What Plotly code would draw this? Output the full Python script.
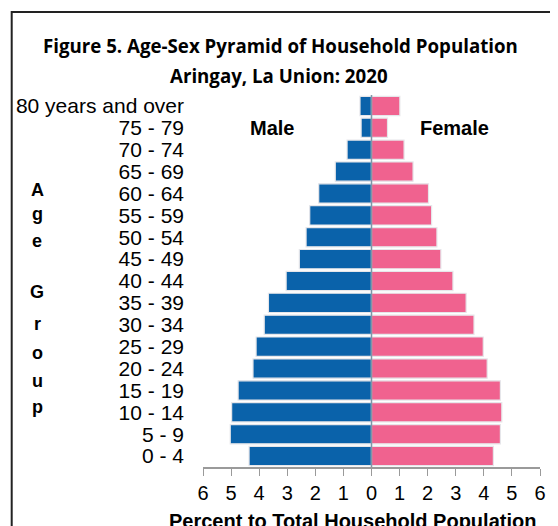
import plotly.graph_objects as go

age_groups = ["0 - 4", "5 - 9", "10 - 14", "15 - 19", "20 - 24", "25 - 29",
              "30 - 34", "35 - 39", "40 - 44", "45 - 49", "50 - 54", "55 - 59",
              "60 - 64", "65 - 69", "70 - 74", "75 - 79", "80 years and over"]
male = [4.36, 5.03, 4.98, 4.75, 4.22, 4.11, 3.82, 3.67, 3.04, 2.57, 2.33,
        2.20, 1.88, 1.29, 0.87, 0.37, 0.41]
female = [4.34, 4.59, 4.64, 4.59, 4.12, 3.98, 3.65, 3.37, 2.90, 2.47, 2.33,
          2.14, 2.03, 1.48, 1.16, 0.57, 1.01]
tick_vals = [-6, -5, -4, -3, -2, -1, 0, 1, 2, 3, 4, 5, 6]
tick_text = ["6", "5", "4", "3", "2", "1", "0", "1", "2", "3", "4", "5", "6"]

# the page body adds an 8px margin, so the figure is drawn 8px smaller
OFF = 8
W, H = 558 - OFF, 526 - OFF
L, R, T, B = 203 - OFF, 15, 95 - OFF, 59
pw, ph = W - L - R, H - T - B


def px(x):
    return (x - OFF - L) / pw


def py(y):
    return (H - B - (y - OFF)) / ph


fig = go.Figure()
fig.add_trace(go.Bar(
    y=age_groups, x=[-v for v in male], orientation="h", name="Male",
    marker=dict(color="#0a62aa", line=dict(color="#e6e6ea", width=1.2)),
))
fig.add_trace(go.Bar(
    y=age_groups, x=female, orientation="h", name="Female",
    marker=dict(color="#f0628f", line=dict(color="#e6e6ea", width=1.2)),
))

font = "Liberation Sans, Arial, sans-serif"
fig.update_layout(
    width=W, height=H, barmode="overlay", bargap=0.12, showlegend=False,
    margin=dict(l=L, r=R, t=T, b=B),
    paper_bgcolor="white", plot_bgcolor="white",
    font=dict(family=font, size=20, color="black"),
    xaxis=dict(
        range=[-6, 6], tickvals=tick_vals, ticktext=tick_text,
        showgrid=False, zeroline=False, showline=True, linecolor="#9a9a9a",
        linewidth=1.5, ticks="outside", ticklen=7, tickcolor="#9a9a9a",
        tickfont=dict(size=20), fixedrange=True,
    ),
    yaxis=dict(
        range=[-0.5, 16.5], showgrid=False, zeroline=False, showline=False,
        tickmode="array", tickvals=age_groups, ticktext=age_groups,
        ticks="", ticklabelstandoff=18, tickfont=dict(size=21),
        automargin=False,
    ),
)

# centre divider
fig.add_shape(type="line", xref="x", yref="paper", x0=0, x1=0, y0=0, y1=1,
              line=dict(color="#7f95a8", width=1.5))
# outer frame
fig.add_shape(type="rect", xref="paper", yref="paper",
              x0=px(10), x1=px(600), y0=py(12), y1=py(560),
              line=dict(color="#222222", width=2))

title_font = dict(family="Open Sans, Noto Sans, sans-serif", size=18.7, color="black")
fig.add_annotation(text="<b>Figure 5. Age-Sex Pyramid of Household Population</b>",
                   xref="paper", yref="paper", x=px(281), y=py(46),
                   xanchor="center", yanchor="middle",
                   showarrow=False, font=title_font)
fig.add_annotation(text="<b>Aringay, La Union: 2020</b>",
                   xref="paper", yref="paper", x=px(280), y=py(75),
                   xanchor="center", yanchor="middle",
                   showarrow=False, font=title_font)

fig.add_annotation(text="<b>Male</b>", xref="paper", yref="paper",
                   x=px(273), y=py(128), xanchor="center", yanchor="middle",
                   showarrow=False, font=dict(family=font, size=20))
fig.add_annotation(text="<b>Female</b>", xref="paper", yref="paper",
                   x=px(457), y=py(128), xanchor="center", yanchor="middle",
                   showarrow=False, font=dict(family=font, size=20))

fig.add_annotation(text="<b>Percent to Total Household Population</b>",
                   xref="paper", yref="paper", x=px(167), y=py(521),
                   xanchor="left", yanchor="middle", showarrow=False,
                   font=dict(family=font, size=20))

letters = [("A", 190), ("g", 214), ("e", 241), ("G", 292), ("r", 324),
           ("o", 353), ("u", 381), ("p", 407)]
for ch, yy in letters:
    fig.add_annotation(text="<b>" + ch + "</b>", xref="paper", yref="paper",
                       x=px(36), y=py(yy), xanchor="center", yanchor="middle",
                       showarrow=False, font=dict(family=font, size=18))

fig.write_html("out.html")
